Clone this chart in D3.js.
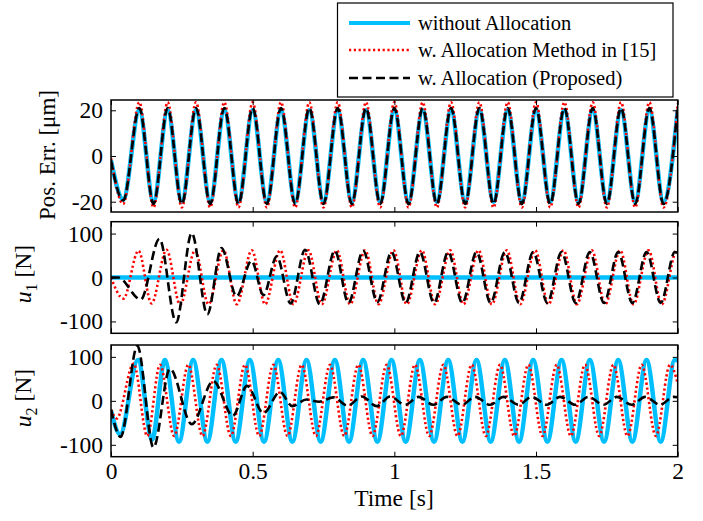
<!DOCTYPE html>
<html>
<head>
<meta charset="utf-8">
<script src="https://cdn.jsdelivr.net/npm/d3@7"></script>
<style>
  body { margin: 0; background: #fff; }
  svg text { font-family: "Liberation Serif", "Times New Roman", serif; fill: #000; }
</style>
</head>
<body>
<div id="PlotArea"></div>
<script>
// ---- data (extrema of each trace) ----
var seriesNames = ["without Allocation", "w. Allocation Method in [15]", "w. Allocation (Proposed)"];
var xTicks = [0, 0.5, 1, 1.5, 2];

// panel 1 : position error [um]
var tPos = [0, 0.043, 0.1, 0.15, 0.2, 0.25, 0.3, 0.35, 0.4, 0.45, 0.5, 0.55, 0.6, 0.65, 0.7, 0.75, 0.8, 0.85, 0.9, 0.95,
            1.0, 1.05, 1.1, 1.15, 1.2, 1.25, 1.3, 1.35, 1.4, 1.45, 1.5, 1.55, 1.6, 1.65, 1.7, 1.75, 1.8, 1.85, 1.9, 1.95, 2.0];
var posBlue  = [-2, -19, 20, -20, 20, -20, 20, -20, 20, -20, 20, -20, 20, -20, 20, -20, 20, -20, 20, -20,
                20, -20, 20, -20, 20, -20, 20, -20, 20, -20, 20, -20, 20, -20, 20, -20, 20, -20, 20, -20, 20];
var posRed   = [-1, -21, 23.5, -22.5, 23.5, -22.5, 23.5, -22.5, 23.5, -22.5, 23.5, -22.5, 23.5, -22.5, 23.5, -22.5, 23.5, -22.5, 23.5, -22.5,
                23.5, -22.5, 23.5, -22.5, 23.5, -22.5, 23.5, -22.5, 23.5, -22.5, 23.5, -22.5, 23.5, -22.5, 23.5, -22.5, 23.5, -22.5, 23.5, -22.5, 23];
var posBlack = [-2, -19.5, 21, -21, 21, -21, 21, -21, 21, -21, 21, -21, 21, -21, 21, -21, 21, -21, 21, -21,
                21, -21, 21, -21, 21, -21, 21, -21, 21, -21, 21, -21, 21, -21, 21, -21, 21, -21, 21, -21, 21];

// panel 2 : u1 [N]
var tU1Blue = [0, 2];
var u1Blue  = [0, 0];
var tU1Red = [0, 0.044, 0.097, 0.143, 0.196, 0.244, 0.297, 0.344, 0.397, 0.444, 0.497, 0.544, 0.597, 0.644, 0.697, 0.744, 0.797, 0.844, 0.897, 0.944,
              0.997, 1.044, 1.097, 1.144, 1.197, 1.244, 1.297, 1.344, 1.397, 1.444, 1.497, 1.544, 1.597, 1.644, 1.697, 1.744, 1.797, 1.844, 1.897, 1.944, 1.997, 2.0];
var u1Red  = [0, -48, 61, -59, 63, -62, 62, -61, 62, -61, 62, -61, 62, -61, 62, -61, 62, -61, 62, -61,
              62, -61, 62, -61, 62, -61, 62, -61, 62, -61, 62, -61, 62, -61, 62, -61, 62, -61, 62, -61, 62, 61];
var tU1Black = [0, 0.025, 0.105, 0.171, 0.23, 0.285, 0.34, 0.39, 0.443, 0.496, 0.538, 0.585, 0.634, 0.685, 0.737, 0.79, 0.838, 0.89, 0.94, 0.99,
                1.04, 1.09, 1.14, 1.19, 1.24, 1.29, 1.34, 1.39, 1.44, 1.49, 1.54, 1.59, 1.64, 1.69, 1.74, 1.79, 1.84, 1.89, 1.94, 1.99, 2.0];
var u1Black  = [0, 0, -50, 88, -102, 101, -84, 67, -43, 38, -40, 48, -59, 63, -61, 61, -58, 61, -56, 58,
                -58, 58, -58, 58, -58, 58, -58, 58, -58, 58, -58, 58, -58, 58, -58, 58, -58, 58, -58, 58, 56];

// panel 3 : u2 [N]
var tU2Blue = [0, 0.032, 0.095, 0.145, 0.19, 0.24, 0.29, 0.34, 0.39, 0.44, 0.49, 0.54, 0.59, 0.64, 0.69, 0.74, 0.79, 0.84, 0.89, 0.94,
               0.99, 1.04, 1.09, 1.14, 1.19, 1.24, 1.29, 1.34, 1.39, 1.44, 1.49, 1.54, 1.59, 1.64, 1.69, 1.74, 1.79, 1.84, 1.89, 1.94, 1.99, 2.0];
var u2Blue  = [-22, -76, 93, -88, 93, -93, 93, -93, 93, -93, 93, -93, 93, -93, 93, -93, 93, -93, 93, -93,
               93, -93, 93, -93, 93, -93, 93, -93, 93, -93, 93, -93, 93, -93, 93, -93, 93, -93, 93, -93, 93, 92];
var tU2Red = [0, 0.02, 0.08, 0.128, 0.173, 0.223, 0.273, 0.323, 0.373, 0.423, 0.473, 0.523, 0.573, 0.623, 0.673, 0.723, 0.773, 0.823, 0.873, 0.923,
              0.973, 1.023, 1.073, 1.123, 1.173, 1.223, 1.273, 1.323, 1.373, 1.423, 1.473, 1.523, 1.573, 1.623, 1.673, 1.723, 1.773, 1.823, 1.873, 1.923, 1.973, 2.0];
var u2Red  = [-20, -40, 85, -80, 82, -80, 82, -80, 82, -80, 82, -80, 82, -80, 82, -80, 82, -80, 82, -80,
              82, -80, 82, -80, 82, -80, 82, -80, 82, -80, 82, -80, 82, -80, 82, -80, 82, -80, 82, -80, 82, 40];
var tU2Black = [0, 0.034, 0.093, 0.15, 0.208, 0.285, 0.361, 0.43, 0.48, 0.538, 0.596, 0.64, 0.69, 0.735, 0.785, 0.835, 0.885, 0.938, 0.985,
                1.038, 1.085, 1.138, 1.185, 1.238, 1.285, 1.338, 1.385, 1.438, 1.485, 1.538, 1.585, 1.638, 1.685, 1.738, 1.785, 1.838, 1.885, 1.938, 1.985, 2.0];
var u2Black  = [-20, -82, 125, -106, 73, -53, 45, -34, 34, -28, 20, -12, 3, -2, 8, -11, 10, -12, 10,
                -9, 9, -9, 9, -9, 9, -9, 9, -9, 9, -9, 9, -9, 9, -9, 9, -9, 9, -9, 9, 8];

// ---- layout ----
var W = 703, H = 521;
var left = 111, right = 677.7;
var panels = [
  {top: 100,   bottom: 212,   dom: [-24.5, 24.5], ticks: [-20, 0, 20],
   series: [[tPos, posBlue], [tPos, posRed], [tPos, posBlack]]},
  {top: 221.7, bottom: 333.3, dom: [-127, 127], ticks: [-100, 0, 100],
   series: [[tU1Blue, u1Blue], [tU1Red, u1Red], [tU1Black, u1Black]]},
  {top: 345,   bottom: 456.7, dom: [-127, 127], ticks: [-100, 0, 100],
   series: [[tU2Blue, u2Blue], [tU2Red, u2Red], [tU2Black, u2Black]]}
];
var styles = [
  {color: "#00bfff", width: 4.5, dash: null},
  {color: "#ff0000", width: 2.6, dash: "2.2,2.6"},
  {color: "#000000", width: 2.6, dash: "9,4.5"}
];
var fontSize = 23.5;

var svg = d3.select("#PlotArea").append("svg")
  .attr("width", W).attr("height", H);

var xscale = d3.scaleLinear().domain([0, 2]).range([left, right]);

panels.forEach(function(p, pi) {
  var yscale = d3.scaleLinear().domain(p.dom).range([p.bottom, p.top]);
  var g = svg.append("g");

  g.append("clipPath").attr("id", "clip" + pi)
    .append("rect").attr("x", left).attr("y", p.top)
    .attr("width", right - left).attr("height", p.bottom - p.top);

  var line = d3.line().curve(d3.curveMonotoneX)
    .x(function(d) { return xscale(d[0]); })
    .y(function(d) { return yscale(d[1]); });

  p.series.forEach(function(s, si) {
    var dat = s[0].map(function(t, i) { return [t, s[1][i]]; });
    g.append("path")
      .attr("clip-path", "url(#clip" + pi + ")")
      .attr("fill", "none")
      .attr("stroke", styles[si].color)
      .attr("stroke-width", styles[si].width)
      .attr("stroke-dasharray", styles[si].dash)
      .attr("d", line(dat));
  });

  // inward ticks on all four sides, labels left / bottom
  var yl = g.append("g").attr("transform", "translate(" + left + ",0)")
    .call(d3.axisLeft(yscale).tickValues(p.ticks).tickSize(-5).tickPadding(8)
      .tickFormat(function(d) { return d < 0 ? "-" + Math.abs(d) : d; }));
  var yr = g.append("g").attr("transform", "translate(" + right + ",0)")
    .call(d3.axisRight(yscale).tickValues(p.ticks).tickSize(-5).tickFormat(""));
  var xt = g.append("g").attr("transform", "translate(0," + p.top + ")")
    .call(d3.axisTop(xscale).tickValues(xTicks).tickSize(-5).tickFormat(""));
  var xb = g.append("g").attr("transform", "translate(0," + p.bottom + ")")
    .call(d3.axisBottom(xscale).tickValues(xTicks).tickSize(-5).tickPadding(6)
      .tickFormat(pi == 2 ? function(d) { return d; } : ""));

  [yl, yr, xt, xb].forEach(function(a) {
    a.select(".domain").remove();
    a.selectAll("line").attr("stroke", "#000").attr("stroke-width", 1);
    a.selectAll("text").attr("font-family", "Liberation Serif, Times New Roman, serif")
      .attr("font-size", fontSize).attr("fill", "#000");
  });

  g.append("rect").attr("x", left).attr("y", p.top)
    .attr("width", right - left).attr("height", p.bottom - p.top)
    .attr("fill", "none").attr("stroke", "#000").attr("stroke-width", 1.5);
});

// y labels
svg.append("text")
  .attr("transform", "translate(55,155) rotate(-90)")
  .attr("text-anchor", "middle").attr("font-size", 23)
  .text("Pos. Err. [\u03bcm]");

[["1", 274], ["2", 398]].forEach(function(l) {
  var t = svg.append("text")
    .attr("transform", "translate(31," + l[1] + ") rotate(-90)")
    .attr("text-anchor", "middle").attr("font-size", fontSize);
  t.append("tspan").attr("font-style", "italic").text("u");
  t.append("tspan").attr("font-size", 16).attr("dy", 6).text(l[0]);
  t.append("tspan").attr("dy", -6).text(" [N]");
});

// x label
svg.append("text")
  .attr("x", 394).attr("y", 506)
  .attr("text-anchor", "middle").attr("font-size", fontSize)
  .text("Time [s]");

// legend
var lg = svg.append("g");
lg.append("rect").attr("x", 337.5).attr("y", 3)
  .attr("width", 335.5).attr("height", 94)
  .attr("fill", "#fff").attr("stroke", "#000").attr("stroke-width", 1.2);
var rowsY = [23, 50, 78];
seriesNames.forEach(function(name, i) {
  lg.append("line")
    .attr("x1", 349).attr("x2", 410).attr("y1", rowsY[i]).attr("y2", rowsY[i])
    .attr("stroke", styles[i].color)
    .attr("stroke-width", i == 0 ? 4 : 2.6)
    .attr("stroke-dasharray", styles[i].dash);
  lg.append("text")
    .attr("x", 418).attr("y", rowsY[i] + 6.5)
    .attr("font-size", 20.5)
    .text(name);
});
</script>
</body>
</html>
